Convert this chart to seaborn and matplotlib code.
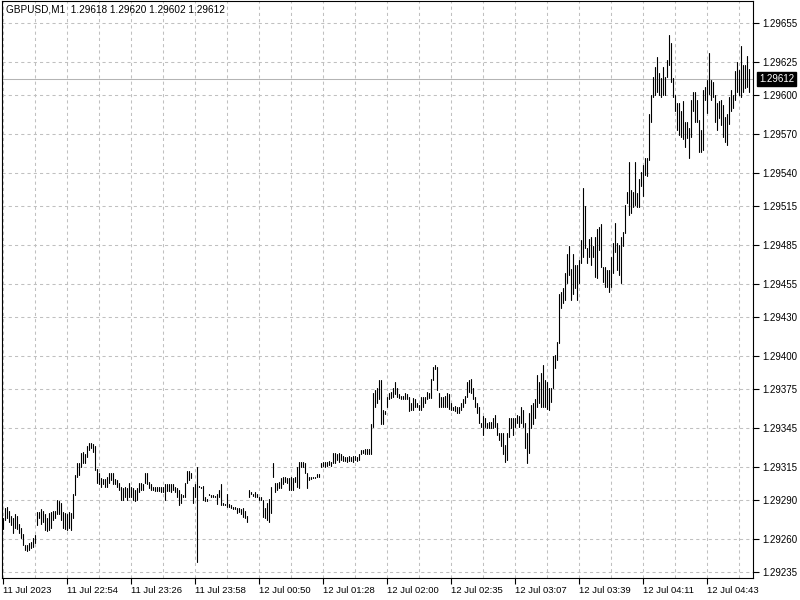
import numpy as np
import pandas as pd
import matplotlib
matplotlib.use("Agg")
import matplotlib.pyplot as plt
import seaborn as sns

# ---------------- data ----------------
chart_title = "GBPUSD,M1  1.29618 1.29620 1.29602 1.29612"
last_price = 1.29612

highs = [
    1.29276, 1.29284, 1.29285, 1.29282, 1.29278, 1.29276, 1.29279, 1.29278, 1.29272, 1.29269,
    1.29264, 1.29256, 1.29256, 1.29257, 1.29258, 1.29261, 1.29263, 1.29281, 1.29281, 1.29283,
    1.29282, 1.29279, 1.29276, 1.29280, 1.29281, 1.29282, 1.29282, 1.29290, 1.29289, 1.29288,
    1.29281, 1.29280, 1.29279, 1.29281, 1.29280, 1.29295, 1.29309, 1.29318, 1.29318, 1.29326,
    1.29327, 1.29325, 1.29331, 1.29334, 1.29334, 1.29333, 1.29331, 1.29314, 1.29311, 1.29307,
    1.29306, 1.29306, 1.29308, 1.29311, 1.29311, 1.29311, 1.29306, 1.29305, 1.29303, 1.29300,
    1.29299, 1.29300, 1.29299, 1.29303, 1.29300, 1.29299, 1.29298, 1.29299, 1.29303, 1.29303,
    1.29302, 1.29311, 1.29311, 1.29304, 1.29302, 1.29300, 1.29300, 1.29300, 1.29300, 1.29300,
    1.29300, 1.29302, 1.29302, 1.29302, 1.29302, 1.29302, 1.29300, 1.29299, 1.29298, 1.29295,
    1.29294, 1.29303, 1.29312, 1.29312, 1.29311, 1.29300, 1.29302, 1.29315, 1.29301, 1.29300,
    1.29301, 1.29292, 1.29291, 1.29295, 1.29294, 1.29294, 1.29293, 1.29295, 1.29298, 1.29302,
    1.29288, 1.29287, 1.29295, 1.29287, 1.29286, 1.29285, 1.29285, 1.29284, 1.29284, 1.29283,
    1.29284, 1.29282, 1.29278, 1.29298, 1.29296, 1.29295, 1.29296, 1.29295, 1.29292, 1.29292,
    1.29290, 1.29284, 1.29288, 1.29291, 1.29300, 1.29318, 1.29303, 1.29303, 1.29304, 1.29307,
    1.29308, 1.29308, 1.29307, 1.29307, 1.29308, 1.29307, 1.29308, 1.29315, 1.29319, 1.29319,
    1.29319, 1.29318, 1.29311, 1.29308, 1.29308, 1.29308, 1.29308, 1.29310, 1.29310, 1.29318,
    1.29319, 1.29319, 1.29319, 1.29320, 1.29319, 1.29326, 1.29326, 1.29325, 1.29326, 1.29325,
    1.29324, 1.29323, 1.29323, 1.29324, 1.29323, 1.29324, 1.29324, 1.29323, 1.29325, 1.29328,
    1.29328, 1.29329, 1.29329, 1.29329, 1.29348, 1.29372, 1.29374, 1.29376, 1.29382, 1.29382,
    1.29359, 1.29358, 1.29369, 1.29372, 1.29373, 1.29376, 1.29380, 1.29376, 1.29371, 1.29370,
    1.29370, 1.29372, 1.29371, 1.29369, 1.29364, 1.29368, 1.29367, 1.29364, 1.29363, 1.29369,
    1.29369, 1.29369, 1.29373, 1.29372, 1.29383, 1.29392, 1.29393, 1.29392, 1.29372, 1.29369,
    1.29369, 1.29370, 1.29372, 1.29371, 1.29364, 1.29361, 1.29362, 1.29361, 1.29361, 1.29364,
    1.29367, 1.29370, 1.29380, 1.29382, 1.29383, 1.29376, 1.29369, 1.29364, 1.29361, 1.29349,
    1.29354, 1.29353, 1.29349, 1.29350, 1.29350, 1.29353, 1.29355, 1.29349, 1.29341, 1.29341,
    1.29341, 1.29332, 1.29341, 1.29353, 1.29353, 1.29353, 1.29353, 1.29355, 1.29354, 1.29361,
    1.29359, 1.29349, 1.29341, 1.29357, 1.29363, 1.29364, 1.29367, 1.29386, 1.29380, 1.29387,
    1.29393, 1.29382, 1.29380, 1.29376, 1.29376, 1.29400, 1.29401, 1.29411, 1.29448, 1.29449,
    1.29452, 1.29464, 1.29478, 1.29484, 1.29467, 1.29478, 1.29470, 1.29470, 1.29474, 1.29489,
    1.29529, 1.29515, 1.29483, 1.29490, 1.29491, 1.29484, 1.29491, 1.29497, 1.29499, 1.29501,
    1.29468, 1.29468, 1.29466, 1.29466, 1.29476, 1.29487, 1.29502, 1.29487, 1.29485, 1.29491,
    1.29495, 1.29516, 1.29526, 1.29549, 1.29527, 1.29526, 1.29549, 1.29525, 1.29536, 1.29541,
    1.29546, 1.29552, 1.29552, 1.29585, 1.29600, 1.29614, 1.29621, 1.29629, 1.29617, 1.29613,
    1.29621, 1.29614, 1.29627, 1.29646, 1.29640, 1.29613, 1.29600, 1.29594, 1.29594, 1.29588,
    1.29595, 1.29579, 1.29579, 1.29575, 1.29596, 1.29602, 1.29602, 1.29596, 1.29581, 1.29573,
    1.29604, 1.29606, 1.29611, 1.29632, 1.29611, 1.29610, 1.29600, 1.29594, 1.29595, 1.29596,
    1.29592, 1.29583, 1.29585, 1.29598, 1.29604, 1.29600, 1.29618, 1.29625, 1.29619, 1.29637,
    1.29623, 1.29623, 1.29630, 1.29620,
]

lows = [
    1.29268, 1.29275, 1.29276, 1.29273, 1.29271, 1.29265, 1.29269, 1.29268, 1.29265, 1.29261,
    1.29256, 1.29252, 1.29251, 1.29252, 1.29253, 1.29254, 1.29257, 1.29271, 1.29276, 1.29272,
    1.29273, 1.29267, 1.29266, 1.29267, 1.29269, 1.29275, 1.29276, 1.29279, 1.29279, 1.29275,
    1.29269, 1.29268, 1.29267, 1.29269, 1.29267, 1.29276, 1.29294, 1.29308, 1.29309, 1.29315,
    1.29318, 1.29318, 1.29323, 1.29328, 1.29330, 1.29327, 1.29313, 1.29303, 1.29302, 1.29300,
    1.29302, 1.29300, 1.29300, 1.29303, 1.29305, 1.29302, 1.29302, 1.29300, 1.29298, 1.29290,
    1.29290, 1.29292, 1.29290, 1.29292, 1.29292, 1.29290, 1.29289, 1.29290, 1.29296, 1.29298,
    1.29298, 1.29303, 1.29302, 1.29299, 1.29298, 1.29298, 1.29297, 1.29297, 1.29297, 1.29296,
    1.29296, 1.29290, 1.29297, 1.29297, 1.29296, 1.29298, 1.29296, 1.29292, 1.29286, 1.29288,
    1.29292, 1.29292, 1.29303, 1.29305, 1.29307, 1.29288, 1.29292, 1.29243, 1.29300, 1.29299,
    1.29290, 1.29289, 1.29289, 1.29294, 1.29292, 1.29292, 1.29292, 1.29287, 1.29292, 1.29286,
    1.29286, 1.29286, 1.29285, 1.29285, 1.29284, 1.29283, 1.29283, 1.29280, 1.29281, 1.29279,
    1.29277, 1.29276, 1.29273, 1.29292, 1.29295, 1.29293, 1.29292, 1.29292, 1.29290, 1.29290,
    1.29277, 1.29276, 1.29275, 1.29273, 1.29280, 1.29308, 1.29296, 1.29298, 1.29299, 1.29299,
    1.29302, 1.29304, 1.29303, 1.29298, 1.29298, 1.29298, 1.29304, 1.29300, 1.29299, 1.29315,
    1.29315, 1.29311, 1.29299, 1.29305, 1.29306, 1.29307, 1.29307, 1.29308, 1.29308, 1.29315,
    1.29316, 1.29315, 1.29316, 1.29317, 1.29316, 1.29318, 1.29318, 1.29321, 1.29319, 1.29321,
    1.29320, 1.29320, 1.29319, 1.29320, 1.29320, 1.29319, 1.29321, 1.29320, 1.29321, 1.29325,
    1.29326, 1.29325, 1.29325, 1.29325, 1.29325, 1.29346, 1.29361, 1.29364, 1.29367, 1.29348,
    1.29348, 1.29356, 1.29361, 1.29367, 1.29368, 1.29369, 1.29371, 1.29369, 1.29368, 1.29367,
    1.29367, 1.29367, 1.29367, 1.29358, 1.29359, 1.29359, 1.29361, 1.29361, 1.29359, 1.29359,
    1.29361, 1.29364, 1.29367, 1.29368, 1.29368, 1.29382, 1.29390, 1.29374, 1.29361, 1.29361,
    1.29361, 1.29361, 1.29361, 1.29360, 1.29359, 1.29359, 1.29358, 1.29357, 1.29357, 1.29359,
    1.29361, 1.29364, 1.29369, 1.29373, 1.29372, 1.29367, 1.29361, 1.29357, 1.29349, 1.29346,
    1.29340, 1.29346, 1.29345, 1.29345, 1.29345, 1.29345, 1.29346, 1.29340, 1.29336, 1.29331,
    1.29325, 1.29319, 1.29321, 1.29338, 1.29345, 1.29340, 1.29346, 1.29349, 1.29346, 1.29349,
    1.29346, 1.29330, 1.29318, 1.29326, 1.29345, 1.29348, 1.29353, 1.29361, 1.29364, 1.29361,
    1.29361, 1.29361, 1.29360, 1.29359, 1.29365, 1.29376, 1.29391, 1.29397, 1.29410, 1.29437,
    1.29441, 1.29443, 1.29456, 1.29462, 1.29443, 1.29448, 1.29452, 1.29443, 1.29456, 1.29471,
    1.29476, 1.29483, 1.29471, 1.29476, 1.29470, 1.29476, 1.29461, 1.29460, 1.29481, 1.29468,
    1.29457, 1.29453, 1.29453, 1.29449, 1.29453, 1.29464, 1.29480, 1.29466, 1.29462, 1.29456,
    1.29484, 1.29494, 1.29517, 1.29508, 1.29510, 1.29514, 1.29516, 1.29514, 1.29514, 1.29530,
    1.29523, 1.29539, 1.29538, 1.29550, 1.29579, 1.29598, 1.29600, 1.29602, 1.29600, 1.29598,
    1.29600, 1.29600, 1.29614, 1.29623, 1.29610, 1.29598, 1.29588, 1.29573, 1.29569, 1.29568,
    1.29566, 1.29560, 1.29567, 1.29552, 1.29568, 1.29588, 1.29579, 1.29579, 1.29556, 1.29556,
    1.29558, 1.29596, 1.29586, 1.29601, 1.29596, 1.29598, 1.29579, 1.29573, 1.29582, 1.29577,
    1.29568, 1.29564, 1.29562, 1.29578, 1.29588, 1.29590, 1.29596, 1.29602, 1.29600, 1.29598,
    1.29602, 1.29605, 1.29606, 1.29602,
]

price_ticks = [1.29235, 1.29260, 1.29290, 1.29315, 1.29345, 1.29375, 1.29400, 1.29430,
               1.29455, 1.29485, 1.29515, 1.29540, 1.29570, 1.29600, 1.29625, 1.29655]

time_labels = ["11 Jul 2023", "11 Jul 22:54", "11 Jul 23:26", "11 Jul 23:58",
               "12 Jul 00:50", "12 Jul 01:28", "12 Jul 02:00", "12 Jul 02:35",
               "12 Jul 03:07", "12 Jul 03:39", "12 Jul 04:11", "12 Jul 04:43"]
bars_per_label = 32

# ---------------- figure ----------------
sns.set_style("white")
plt.rcParams["font.family"] = ["Liberation Sans", "DejaVu Sans"]

W, H = 800, 600
fig = plt.figure(figsize=(W / 100, H / 100), dpi=100)
ax = fig.add_axes([2 / W, 22 / H, 751 / W, 577 / H])

n = len(highs)
idx = np.arange(n)
df = pd.DataFrame({
    "bar": np.concatenate([idx, idx]),
    "price": np.concatenate([np.array(highs), np.array(lows)]),
})

grid_col = "#c0c0c0"
dash = (0, (3, 3))

# grid
ax.set_xlim(-0.5, 375.0)
ax.set_ylim(1.292304, 1.296718)
for k in range(0, 376, 16):
    ax.axvline(k, color=grid_col, lw=0.75, ls=dash, zorder=0)
for p in price_ticks:
    ax.axhline(p, color=grid_col, lw=0.75, ls=dash, zorder=0)

# current price line
ax.axhline(last_price, color="#b4b4b4", lw=0.75, zorder=1)

sns.lineplot(data=df, x="bar", y="price", units="bar", estimator=None,
             color="black", linewidth=0.8, ax=ax, legend=False, zorder=3)

ax.set_xlabel("")
ax.set_ylabel("")

# y axis on the right
ax.yaxis.tick_right()
ax.set_yticks(price_ticks)
ax.set_yticklabels([f"{p:.5f}" for p in price_ticks])
ax.tick_params(axis="y", direction="out", length=4, width=0.8, pad=3,
               labelsize=7, colors="black", right=True, left=False)

# x axis
xt = [i * bars_per_label for i in range(len(time_labels))]
ax.set_xticks(xt)
ax.set_xticklabels(time_labels, ha="left")
ax.tick_params(axis="x", direction="out", length=4, width=0.8, pad=2,
               labelsize=6.8, colors="black", bottom=True)

for s in ax.spines.values():
    s.set_visible(True)
    s.set_color("black")
    s.set_linewidth(0.8)

# current price label box
ax.annotate(f"{last_price:.5f}", xy=(1.0, last_price),
            xycoords=("axes fraction", "data"),
            xytext=(4.5, 0), textcoords="offset points",
            ha="left", va="center", fontsize=7, color="white",
            bbox=dict(boxstyle="square,pad=0.2", fc="black", ec="black"),
            annotation_clip=False, zorder=10)

# title text
fig.text(6 / W, 1 - 10 / H, chart_title, fontsize=7.2, ha="left", va="center",
         color="black")

fig.savefig("out.png", dpi=100, facecolor="white")
